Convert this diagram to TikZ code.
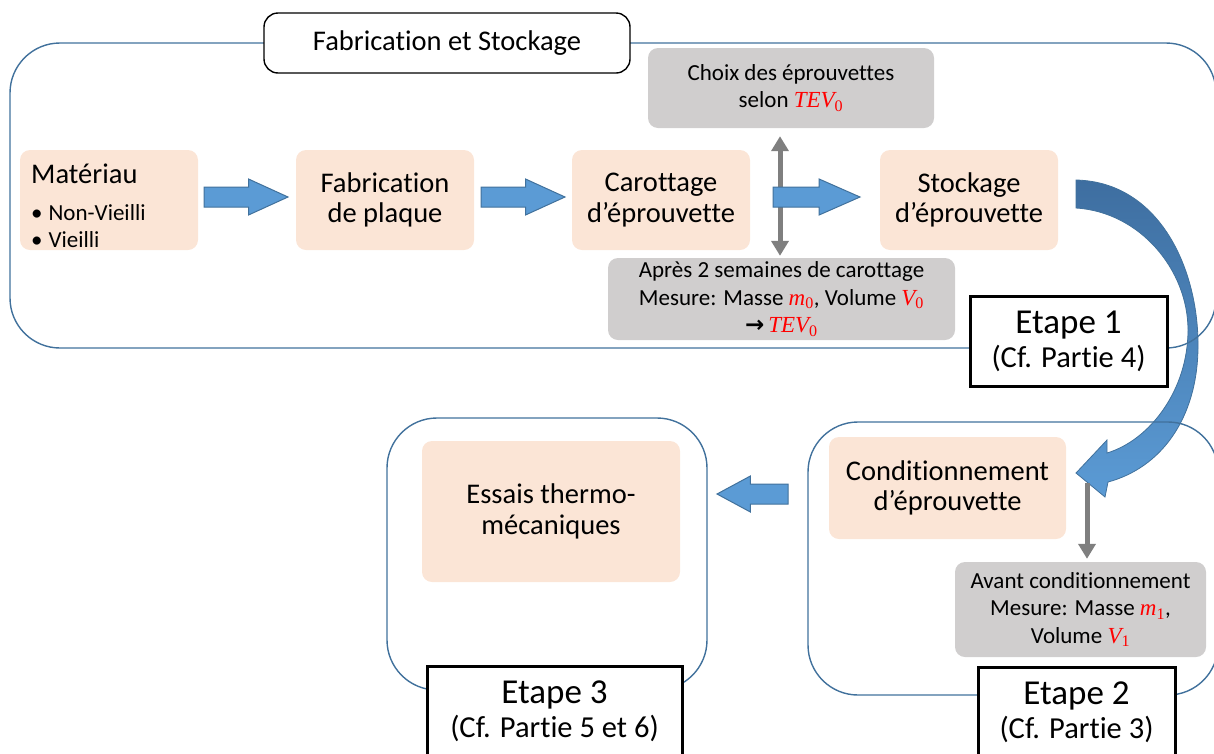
\documentclass[tikz,border=0pt]{standalone}
\usepackage{fontspec}
\setmainfont{Carlito}[Ligatures=NoCommon]
\newfontfamily\arrowfont{DejaVu Sans}
\newfontfamily\varfont{Liberation Serif}
\usetikzlibrary{arrows.meta,calc}

\definecolor{peach}{RGB}{251,229,214}
\definecolor{grayfill}{RGB}{208,206,206}
\definecolor{frameblue}{RGB}{65,113,156}
\definecolor{arrowblue}{RGB}{91,155,213}
\definecolor{arrowedge}{RGB}{65,113,156}
\definecolor{arrowdark}{RGB}{62,110,160}
\definecolor{linkgray}{RGB}{127,127,127}

\newcommand\fmain{\fontsize{28.5}{30.5}\selectfont}
\newcommand\fsmall{\fontsize{23}{27.5}\selectfont}
\newcommand\ftitle{\fontsize{28.5}{30}\selectfont}
\newcommand\fbull{\fontsize{23}{27}\selectfont}
\newcommand\fetape{\fontsize{35}{36}\selectfont}
\newcommand\fpartie{\fontsize{30.5}{36}\selectfont}
% red variable name with numeric index
\newcommand\redv[2]{\textcolor{red}{{\varfont\itshape #1}\textsubscript{\varfont #2}}}

% horizontal block arrow from #1 to #2 (same height)
\newcommand\blockarrow[2]{%
  \path[blockarr] let \p1=(#1), \p2=(#2), \n1={\x2-\x1} in
    (\x1,\y1+10pt) -- ({\x2-0.47*\n1},\y1+10pt) -- ({\x2-0.47*\n1},\y1+18pt)
    -- (\x2,\y1) -- ({\x2-0.47*\n1},\y1-18pt) -- ({\x2-0.47*\n1},\y1-10pt)
    -- (\x1,\y1-10pt) -- cycle;}

\tikzset{
  frame/.style={draw=frameblue, line width=1.4pt, rounded corners=50pt, inner sep=0pt},
  peachbox/.style={fill=peach, rounded corners=10pt, minimum width=178pt,
    minimum height=100pt, align=center, font=\fmain, inner sep=0pt},
  graybox/.style={fill=grayfill, rounded corners=10pt, align=center,
    font=\fsmall, inner sep=0pt},
  etapebox/.style={draw=black, line width=3pt, fill=white, align=center,
    font=\fpartie, inner sep=0pt, minimum width=197pt, minimum height=90pt},
  titlebox/.style={draw=black, line width=1.4pt, rounded corners=14pt, fill=white,
    font=\ftitle, minimum width=366pt, minimum height=60pt, inner sep=0pt},
  blockarr/.style={fill=arrowblue, draw=arrowedge, line width=1pt},
  linkarrow/.style={draw=linkgray, line width=5pt},
}

\begin{document}
\begin{tikzpicture}[x=1pt,y=-1pt]
\useasboundingbox (0,0) rectangle (1214,753);

% curved transfer arrow from storage to conditioning
\shadedraw[top color=arrowdark, bottom color=arrowblue, draw=arrowedge, line width=0.8pt]
  (1076,180) .. controls (1160,182) and (1199,270) .. (1198,348)
  .. controls (1197,420) and (1160,468) .. (1108,482)
  -- (1105,497) -- (1076,473) -- (1107,440) -- (1107,453)
  .. controls (1150,440) and (1188,390) .. (1188,330)
  .. controls (1188,270) and (1140,212) .. (1076,208) -- cycle;

% stage frames
\node[frame, minimum width=1206pt, minimum height=305pt] (stage1) at (613,195.5) {};
\node[frame, minimum width=410pt, minimum height=273pt] (stage2) at (1013,558.5) {};
\node[frame, minimum width=320pt, minimum height=272pt] (stage3) at (547,554) {};

\node[titlebox] (title) at (447,43) {Fabrication et Stockage};

% stage 1
\node[peachbox] (mat) at (109,200) {};
\node[anchor=base west, font=\fmain, inner sep=0pt] (matT) at (31,183) {Matériau};
\node[anchor=base west, font=\fbull, inner sep=0pt] (matA) at (31,220) {\textbullet\hspace{6pt}Non-Vieilli};
\node[anchor=base west, font=\fbull, inner sep=0pt] (matB) at (31,247) {\textbullet\hspace{6pt}Vieilli};

\node[peachbox] (fab) at (385,200) {Fabrication\\de plaque};
\node[peachbox] (carot) at (661,200) {Carottage\\d’éprouvette};
\node[peachbox] (stock) at (969,200) {Stockage\\d’éprouvette};

\node[graybox, minimum width=286pt, minimum height=80pt] (choix) at (791,88)
  {Choix des éprouvettes\\selon \redv{TEV}{0}};
\node[graybox, minimum width=347pt, minimum height=82pt] (apres) at (781.5,299)
  {Après 2 semaines de carottage\\Mesure: Masse \redv{m}{0}, Volume \redv{V}{0}\\{\arrowfont\bfseries →}\,\redv{TEV}{0}};

\node[etapebox] (e1) at (1068.5,341) {{\fetape Etape 1}\\[-2pt](Cf. Partie 4)};

% stage 2
\node[peachbox, minimum width=237pt, minimum height=102pt] (cond) at (947.5,488)
  {Conditionnement\\d’éprouvette};
\node[graybox, minimum width=251pt, minimum height=95pt] (avant) at (1080.5,609.5)
  {Avant conditionnement\\Mesure: Masse \redv{m}{1},\\Volume \redv{V}{1}};
\node[etapebox] (e2) at (1076.5,712) {{\fetape Etape 2}\\[-2pt](Cf. Partie 3)};

% stage 3
\node[peachbox, minimum width=258pt, minimum height=141pt] (essais) at (551,511.5)
  {Essais thermo-\\mécaniques};
\node[etapebox, minimum width=255pt] (e3) at (554.5,711.5) {{\fetape Etape 3}\\[-2pt](Cf. Partie 5 et 6)};

% measurement links
\draw[linkarrow, {Triangle[width=17pt,length=15pt]}-{Triangle[width=17pt,length=15pt]},
  shorten <=2pt, shorten >=8pt] (apres.north -| 780,0) -- (choix.south -| 780,0);
\coordinate (cv) at (1087,483);
\draw[linkarrow, -{Triangle[width=17pt,length=15pt]}, shorten >=3pt] (cv) -- (cv |- avant.north);

% process arrows
\coordinate (a1s) at (204,197);  \coordinate (a1e) at (288,197);
\coordinate (a2s) at (481,197);  \coordinate (a2e) at (565,197);
\coordinate (a3s) at (773,197);  \coordinate (a3e) at (860,197);
\coordinate (a4s) at (788,494);  \coordinate (a4e) at (717,494);
\blockarrow{a1s}{a1e}
\blockarrow{a2s}{a2e}
\blockarrow{a3s}{a3e}
\blockarrow{a4s}{a4e}
\end{tikzpicture}
\end{document}
